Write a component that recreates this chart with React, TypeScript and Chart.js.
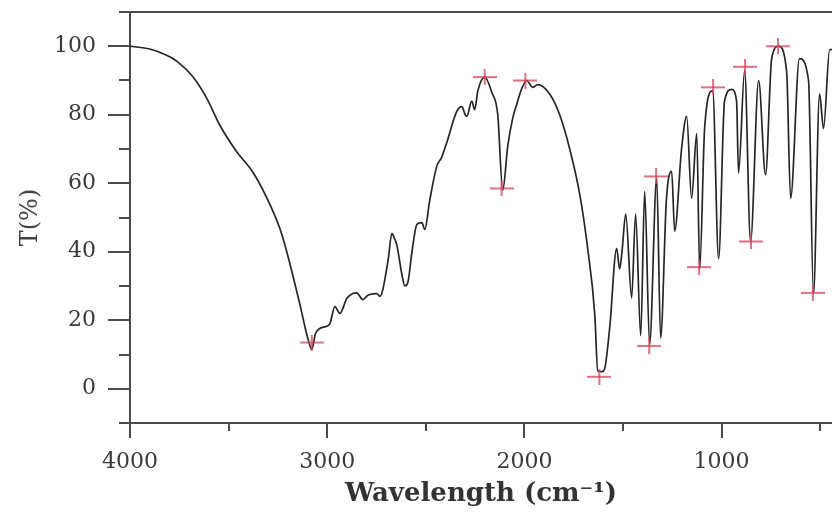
import React, { useEffect, useRef } from "react";
import { Chart, registerables } from "chart.js";

Chart.register(...registerables);

// Wavenumber (cm^-1) and transmittance (%)
const wavenumber = [
  4000, 3900, 3820, 3760, 3680, 3610, 3545, 3460, 3380, 3305, 3240, 3205, 3140, 3095, 3078, 3060, 3037, 3000, 2986,
  2961, 2936, 2900, 2870, 2850, 2819, 2800, 2784, 2748, 2733, 2720, 2690, 2672, 2660, 2647, 2620, 2606, 2591, 2570,
  2545, 2520, 2505, 2480, 2444, 2420, 2393, 2343, 2317, 2300, 2292, 2267, 2252, 2236, 2201, 2165, 2135, 2110, 2084,
  2059, 2039, 2013, 1988, 1958, 1932, 1871, 1821, 1770, 1719, 1679, 1643, 1628, 1605, 1593, 1567, 1532, 1517, 1505,
  1486, 1456, 1436, 1410, 1390, 1365, 1329, 1309, 1280, 1253, 1238, 1203, 1177, 1152, 1126, 1111, 1086, 1045, 1015,
  985, 949, 924, 914, 883, 853, 812, 777, 746, 711, 670, 650, 605, 559, 534, 503, 483, 452, 440,
];
const transmittance = [
  100, 99.2, 97.5, 95.5, 91, 84.7, 77, 69.3, 63.5, 55.6, 46.8, 40, 25, 14, 11.5, 16, 17.6, 18.3, 19,
  24, 22, 26.4, 27.8, 28, 26, 27, 27.5, 27.8, 27, 28.5, 38, 45.4, 44, 42, 33, 30, 31, 40,
  48, 48.5, 46.5, 55, 65, 67.5, 72, 81, 82.4, 80, 79.5, 84, 81.5, 87, 91, 86.5, 80, 58, 71,
  79, 83, 87.7, 90, 88, 88.8, 86, 80, 70, 56.7, 41, 21.7, 5.2, 5, 5.8, 18, 41, 35, 40,
  51, 26.5, 51, 15.5, 57.6, 13, 61.5, 14.8, 55, 63.5, 46, 70, 79.5, 55.6, 74.5, 35, 76, 87, 38,
  84, 87.4, 84, 63, 93, 43, 90, 62.5, 96.4, 100, 92.6, 55.6, 96.4, 90, 27.6, 86, 76, 99, 99,
];

// Picked peaks (red crosses)
const peakWavenumber = [3078, 2201, 2116, 1995, 1620, 1367, 1332, 1114, 1043, 881, 851, 714, 537];
const peakTransmittance = [13.5, 91, 58.5, 90, 3.5, 12.5, 62, 35.5, 88, 94, 43, 100, 28];

// Axis ticks (labels shown on the major ones only)
const xTickValues = [4000, 3500, 3000, 2500, 2000, 1500, 1000, 500];
const xLabelValues = [4000, 3000, 2000, 1000];
const yTickValues = [-10, 0, 10, 20, 30, 40, 50, 60, 70, 80, 90, 100, 110];
const yLabelValues = [0, 20, 40, 60, 80, 100];
const xMin = 440;
const xMax = 4000;
const yMin = -10;
const yMax = 110;

const AXIS_COLOR = "#4a4a4a";
const LABEL_COLOR = "#3a3a3a";
const SERIF = "'DejaVu Serif', 'Liberation Serif', serif";

function makeCross(): HTMLCanvasElement {
  const c = document.createElement("canvas");
  c.width = 24;
  c.height = 16;
  const g = c.getContext("2d")!;
  g.strokeStyle = "#d8405c";
  g.lineWidth = 1.5;
  g.beginPath();
  g.moveTo(0, 8);
  g.lineTo(24, 8);
  g.moveTo(12, 0);
  g.lineTo(12, 16);
  g.stroke();
  return c;
}

const tickMarks = {
  id: "tickMarks",
  afterDraw(chart: any) {
    const { ctx, chartArea } = chart;
    const x = chart.scales.x;
    const y = chart.scales.y;
    ctx.save();
    ctx.strokeStyle = AXIS_COLOR;
    ctx.lineWidth = 2;
    ctx.beginPath();
    y.ticks.forEach((t: any) => {
      const py = Math.round(y.getPixelForValue(t.value));
      const len = yLabelValues.includes(t.value) ? 22 : 11;
      ctx.moveTo(chartArea.left - len, py);
      ctx.lineTo(chartArea.left, py);
    });
    x.ticks.forEach((t: any) => {
      const px = Math.round(x.getPixelForValue(t.value));
      const len = xLabelValues.includes(t.value) ? 15 : 8;
      ctx.moveTo(px, chartArea.bottom);
      ctx.lineTo(px, chartArea.bottom + len);
    });
    ctx.moveTo(chartArea.left, chartArea.top);
    ctx.lineTo(chartArea.right, chartArea.top);
    ctx.stroke();
    ctx.restore();
  },
};

export default function App() {
  const ref = useRef<HTMLCanvasElement | null>(null);

  useEffect(() => {
    document.body.style.margin = "0";
    const canvas = ref.current;
    if (!canvas) return;
    const cross = makeCross();
    const chart = new Chart(canvas, {
      type: "line",
      data: {
        datasets: [
          {
            type: "scatter",
            label: "Peaks",
            data: peakWavenumber.map((w, i) => ({ x: w, y: peakTransmittance[i] })),
            pointStyle: cross as any,
            pointRadius: 10,
            order: 0,
          } as any,
          {
            type: "line",
            label: "Spectrum",
            data: wavenumber.map((w, i) => ({ x: w, y: transmittance[i] })),
            borderColor: "#262626",
            borderWidth: 1.7,
            pointRadius: 0,
            cubicInterpolationMode: "monotone",
            fill: false,
            order: 1,
          },
        ],
      },
      options: {
        animation: false,
        responsive: false,
        devicePixelRatio: 1,
        layout: { autoPadding: false, padding: { top: 12, right: 0, left: 0, bottom: 0 } },
        plugins: {
          legend: { display: false },
          tooltip: { enabled: false },
        },
        scales: {
          x: {
            type: "linear",
            reverse: true,
            bounds: "data",
            min: xMin,
            max: xMax,
            grid: { display: false },
            border: { display: true, color: AXIS_COLOR, width: 2 },
            afterBuildTicks: (s: any) => {
              s.ticks = xTickValues.map((v) => ({ value: v }));
            },
            ticks: {
              autoSkip: false,
              maxRotation: 0,
              padding: 18,
              color: LABEL_COLOR,
              font: { family: SERIF, size: 22 },
              callback: (v: any) => (xLabelValues.includes(Number(v)) ? String(v) : ""),
            },
            title: {
              display: true,
              text: "Wavelength (cm\u207B\u00B9)",
              color: "#333333",
              font: { family: SERIF, size: 26, weight: "bold" },
              padding: { top: 0, bottom: 5 },
            },
            afterFit: (s: any) => {
              s.height = 92;
              s.paddingLeft = 0;
              s.paddingRight = 0;
            },
          },
          y: {
            type: "linear",
            bounds: "data",
            min: yMin,
            max: yMax,
            grid: { display: false },
            border: { display: true, color: AXIS_COLOR, width: 2 },
            afterBuildTicks: (s: any) => {
              s.ticks = yTickValues.map((v) => ({ value: v }));
            },
            ticks: {
              autoSkip: false,
              padding: 26,
              color: LABEL_COLOR,
              font: { family: SERIF, size: 22 },
              callback: (v: any) => (yLabelValues.includes(Number(v)) ? String(v) : ""),
            },
            title: {
              display: true,
              text: "T(%)",
              color: "#444444",
              font: { family: SERIF, size: 24 },
              padding: { top: 16, bottom: 0 },
            },
            afterFit: (s: any) => {
              s.width = 130;
              s.paddingTop = 0;
              s.paddingBottom = 0;
            },
          },
        },
      },
      plugins: [tickMarks],
    });
    return () => chart.destroy();
  }, []);

  return (
    <div style={{ width: 832, height: 515 }}>
      <canvas ref={ref} width={832} height={515} style={{ display: "block" }} />
    </div>
  );
}
